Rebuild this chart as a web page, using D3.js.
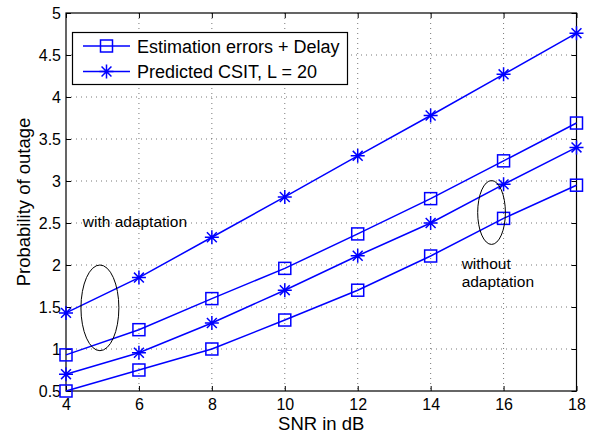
<!DOCTYPE html>
<html><head><meta charset="utf-8">
<script src="https://cdn.jsdelivr.net/npm/d3@7"></script>
<style>body{margin:0;background:#fff}svg{display:block}text{font-family:"Liberation Sans",Arial,Helvetica,sans-serif}</style>
</head><body><svg id="c" width="597" height="435"></svg>
<script>
const snr = [4, 6, 8, 10, 12, 14, 16, 18];
const predWith = [1.43, 1.85, 2.33, 2.81, 3.30, 3.78, 4.27, 4.76];
const estWith = [0.93, 1.23, 1.60, 1.96, 2.37, 2.79, 3.24, 3.69];
const predWithout = [0.70, 0.955, 1.31, 1.70, 2.11, 2.50, 2.96, 3.40];
const estWithout = [0.50, 0.75, 1.00, 1.345, 1.70, 2.107, 2.555, 2.95];
const xTicks = [4, 6, 8, 10, 12, 14, 16, 18];
const yTicks = [0.5, 1, 1.5, 2, 2.5, 3, 3.5, 4, 4.5, 5];
const legendLabels = ["Estimation errors + Delay", "Predicted CSIT, L = 20"];
const ellipses = [{cx: 4.93, cy: 1.49, rx: 0.52, ry: 0.51}, {cx: 15.67, cy: 2.625, rx: 0.38, ry: 0.38}];

const series = [
  {v: predWith, m: "star"}, {v: estWith, m: "square"},
  {v: predWithout, m: "star"}, {v: estWithout, m: "square"}
];
const L = 66, R = 576.5, T = 13, B = 391;
const x = d3.scaleLinear().domain([4, 18]).range([L, R]);
const y = d3.scaleLinear().domain([0.5, 5]).range([B, T]);
const svg = d3.select("#c");
const blue = "#0000ff";

// grid
const g = svg.append("g");
g.selectAll(".gx").data(xTicks.slice(1, -1)).enter().append("line")
  .attr("x1", d => x(d)).attr("x2", d => x(d)).attr("y1", T).attr("y2", B)
  .attr("stroke", "#555").attr("stroke-width", 0.8).attr("stroke-dasharray", "1,4");
g.selectAll(".gy").data(yTicks.slice(1, -1)).enter().append("line")
  .attr("y1", d => y(d)).attr("y2", d => y(d)).attr("x1", L).attr("x2", R)
  .attr("stroke", "#555").attr("stroke-width", 0.8).attr("stroke-dasharray", "1,4");

// axes
const fmt = d => String(d);
const ax = svg.append("g").attr("transform", `translate(0,${B})`)
  .call(d3.axisBottom(x).tickValues(xTicks).tickFormat(fmt).tickSizeInner(-5).tickSizeOuter(0).tickPadding(8));
const ay = svg.append("g").attr("transform", `translate(${L},0)`)
  .call(d3.axisLeft(y).tickValues(yTicks).tickFormat(fmt).tickSizeInner(-5).tickSizeOuter(0).tickPadding(5));
const axT = svg.append("g").attr("transform", `translate(0,${T})`)
  .call(d3.axisTop(x).tickValues(xTicks).tickFormat("").tickSizeInner(-5).tickSizeOuter(0));
const ayR = svg.append("g").attr("transform", `translate(${R},0)`)
  .call(d3.axisRight(y).tickValues(yTicks).tickFormat("").tickSizeInner(-5).tickSizeOuter(0));
[ax, ay, axT, ayR].forEach(a => {
  a.select(".domain").remove();
  a.selectAll("line").attr("stroke", "#000").attr("stroke-width", 1);
  a.selectAll("text").attr("font-size", 16).attr("fill", "#000")
   .attr("font-family", '"Liberation Sans",Arial,sans-serif');
});
svg.append("rect").attr("x", L).attr("y", T).attr("width", R - L).attr("height", B - T)
  .attr("fill", "none").attr("stroke", "#000").attr("stroke-width", 1.2);

// lines
const line = d3.line().x((d, i) => x(snr[i])).y(d => y(d));
function drawMarker(sel, type, cx, cy) {
  if (type === "square") {
    sel.append("rect").attr("x", cx - 6).attr("y", cy - 6).attr("width", 12).attr("height", 12)
      .attr("fill", "none").attr("stroke", blue).attr("stroke-width", 1.5);
  } else {
    const r = 7, p = [];
    for (let k = 0; k < 4; k++) {
      const a = k * Math.PI / 4;
      p.push(`M${cx - r * Math.cos(a)},${cy - r * Math.sin(a)}L${cx + r * Math.cos(a)},${cy + r * Math.sin(a)}`);
    }
    sel.append("path").attr("d", p.join("")).attr("stroke", blue).attr("stroke-width", 1.5).attr("fill", "none");
  }
}
const plot = svg.append("g");
series.forEach(s => {
  plot.append("path").attr("d", line(s.v)).attr("fill", "none").attr("stroke", blue).attr("stroke-width", 1.5);
  s.v.forEach((v, i) => drawMarker(plot, s.m, x(snr[i]), y(v)));
});

// ellipses
ellipses.forEach(e => {
  svg.append("ellipse").attr("cx", x(e.cx)).attr("cy", y(e.cy))
    .attr("rx", x(e.cx + e.rx) - x(e.cx)).attr("ry", y(e.cy) - y(e.cy + e.ry))
    .attr("fill", "none").attr("stroke", "#000").attr("stroke-width", 1);
});

// annotations
svg.append("text").attr("x", x(4.46)).attr("y", y(2.45)).attr("font-size", 15.5).text("with adaptation");
svg.append("text").attr("x", x(14.85)).attr("y", y(1.95)).attr("font-size", 15.5).text("without");
svg.append("text").attr("x", x(14.85)).attr("y", y(1.74)).attr("font-size", 15.5).text("adaptation");

// axis labels
svg.append("text").attr("x", (L + R) / 2).attr("y", 430).attr("text-anchor", "middle")
  .attr("font-size", 18.5).text("SNR in dB");
svg.append("text").attr("transform", `translate(30,${(T + B) / 2}) rotate(-90)`)
  .attr("text-anchor", "middle").attr("font-size", 18.5).text("Probability of outage");

// legend
const lg = svg.append("g");
lg.append("rect").attr("x", 72.5).attr("y", 32.5).attr("width", 275).attr("height", 52)
  .attr("fill", "#fff").attr("stroke", "#000").attr("stroke-width", 1.2);
const legTypes = ["square", "star"];
legendLabels.forEach((lab, i) => {
  const yy = 46 + i * 25.5;
  lg.append("line").attr("x1", 83).attr("x2", 130).attr("y1", yy).attr("y2", yy)
    .attr("stroke", blue).attr("stroke-width", 1.5);
  drawMarker(lg, legTypes[i], 106.5, yy);
  lg.append("text").attr("x", 137).attr("y", yy + 6.5).attr("font-size", 18).text(lab);
});
</script></body></html>
